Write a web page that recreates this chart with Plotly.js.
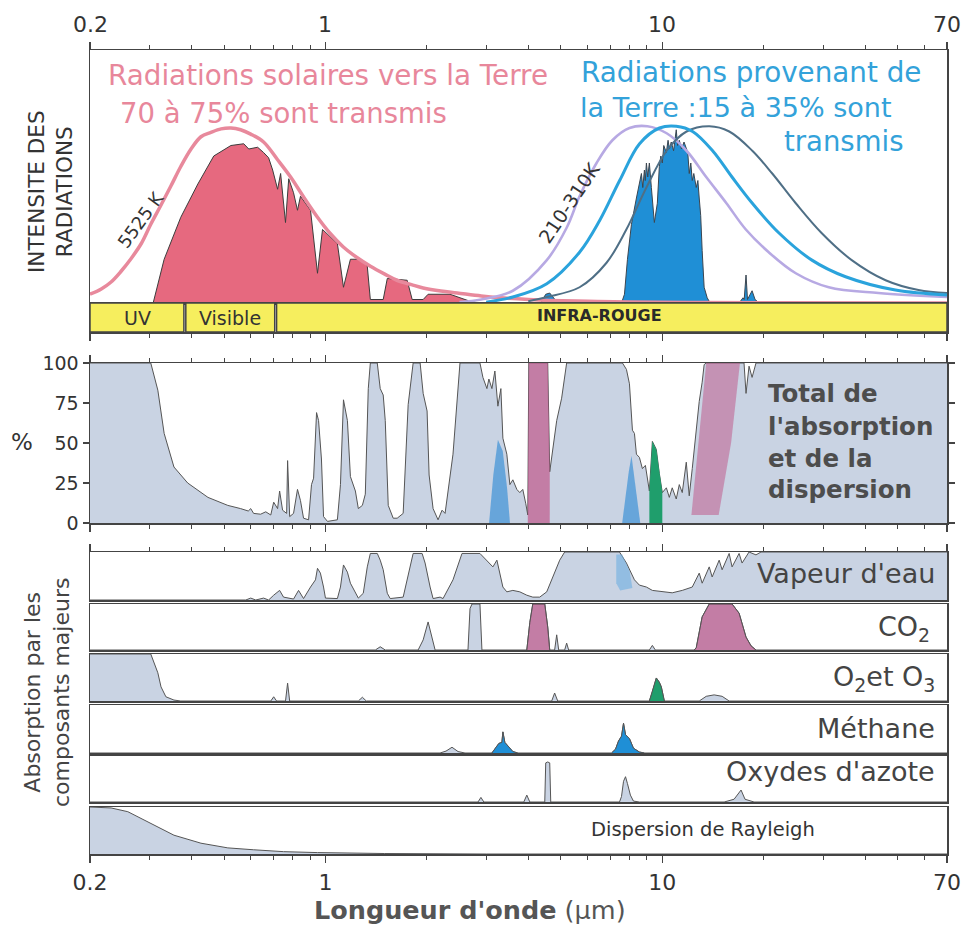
<!DOCTYPE html>
<html>
<head>
<meta charset="utf-8">
<script src="https://cdn.plot.ly/plotly-3.0.1.min.js"></script>
<style>
  html, body { margin: 0; padding: 0; background: #ffffff; }
  #chart { width: 965px; height: 927px; }
</style>
</head>
<body>
<div id="chart"></div>
<script>
// ---------- Wavelengths (µm) and values ----------

// Solar blackbody envelope (5525 K), relative intensity
const sunBbWl = [0.2, 0.216, 0.231, 0.247, 0.264, 0.284, 0.303, 0.325, 0.348, 0.372, 0.399, 0.427, 0.457, 0.49, 0.524, 0.56, 0.6, 0.655, 0.72, 0.788, 0.865, 0.947, 1.03, 1.13, 1.24, 1.36, 1.5, 1.63, 1.8, 1.95, 2.2, 2.46, 2.9, 3.3, 4.0, 4.6, 6.0, 8.0, 12.0, 20.0, 70.0];
const sunBbI  = [0.05, 0.08, 0.12, 0.18, 0.25, 0.34, 0.45, 0.56, 0.67, 0.78, 0.88, 0.95, 0.975, 0.995, 1.0, 0.99, 0.965, 0.92, 0.82, 0.72, 0.6, 0.49, 0.4, 0.32, 0.26, 0.21, 0.165, 0.13, 0.105, 0.086, 0.068, 0.057, 0.04, 0.03, 0.02, 0.015, 0.01, 0.006, 0.003, 0.001, 0];

// Solar radiation reaching the surface
const solarWl = [0.2, 0.308, 0.332, 0.372, 0.418, 0.466, 0.524, 0.572, 0.592, 0.629, 0.655, 0.678, 0.697, 0.721, 0.736, 0.761, 0.778, 0.804, 0.826, 0.843, 0.903, 0.947, 0.98, 1.085, 1.131, 1.186, 1.269, 1.331, 1.359, 1.484, 1.526, 1.748, 1.809, 1.95, 2.017, 2.343, 2.508, 2.686, 2.837, 4.0];
const solarI  = [0, 0, 0.25, 0.49, 0.68, 0.84, 0.9, 0.91, 0.88, 0.89, 0.86, 0.83, 0.76, 0.65, 0.74, 0.46, 0.71, 0.63, 0.53, 0.61, 0.53, 0.17, 0.42, 0.34, 0.09, 0.25, 0.25, 0.21, 0.02, 0.02, 0.14, 0.13, 0.02, 0.02, 0.05, 0.05, 0.03, 0.01, 0, 0];

// Terrestrial blackbody curves (210–310 K)
const lavWl = [2.5, 2.9, 3.6, 4.54, 5.2, 5.68, 6.38, 7.11, 7.99, 9.03, 10.3, 11.8, 13.5, 15.5, 17.7, 20.7, 24.9, 31.2, 43.8, 70];
const lavI  = [0.005, 0.02, 0.07, 0.245, 0.43, 0.61, 0.8, 0.93, 1.0, 1.01, 0.97, 0.87, 0.72, 0.57, 0.42, 0.29, 0.17, 0.09, 0.057, 0.034];
const blueWl = [3.0, 3.6, 4.54, 5.68, 6.51, 7.47, 8.56, 9.81, 11.0, 12.3, 14.1, 16.1, 18.5, 22.2, 27.8, 35.0, 49.2, 70];
const blueI  = [0.005, 0.034, 0.11, 0.29, 0.47, 0.7, 0.91, 1.0, 1.01, 0.98, 0.87, 0.72, 0.57, 0.4, 0.245, 0.15, 0.074, 0.046];
const slateWl = [4.0, 4.54, 5.68, 6.83, 7.82, 8.97, 10.3, 11.8, 13.8, 15.8, 18.5, 21.2, 24.9, 29.7, 36.5, 46.0, 57.6, 70];
const slateI  = [0.01, 0.034, 0.09, 0.23, 0.42, 0.66, 0.87, 0.98, 1.01, 0.98, 0.87, 0.74, 0.57, 0.4, 0.245, 0.13, 0.074, 0.057];

// Radiation leaving the Earth to space
const earthWl = [4.355, 4.507, 4.632, 4.76, 4.892, 7.566, 7.72, 7.88, 8.097, 8.378, 8.669, 8.75, 8.848, 8.9, 8.97, 9.05, 9.153, 9.279, 9.47, 9.665, 9.797, 9.9, 10.0, 10.1, 10.28, 10.4, 10.5, 10.63, 10.8, 11.0, 11.1, 11.23, 11.4, 11.6, 11.78, 11.9, 12.02, 12.15, 12.27, 12.4, 12.61, 12.75, 12.87, 13.0, 13.13, 13.31, 13.59, 13.87, 16.9, 17.36, 17.5, 17.72, 17.9, 18.09, 18.47, 18.85, 19.39];
const earthI  = [0, 0.05, 0.057, 0.03, 0, 0, 0.05, 0.25, 0.45, 0.6, 0.74, 0.66, 0.76, 0.7, 0.8, 0.72, 0.8, 0.66, 0.46, 0.57, 0.78, 0.84, 0.8, 0.9, 0.86, 0.93, 0.88, 0.92, 0.87, 0.99, 0.9, 0.93, 0.88, 0.92, 0.88, 0.86, 0.74, 0.8, 0.7, 0.74, 0.66, 0.7, 0.6, 0.5, 0.3, 0.09, 0.03, 0, 0, 0.03, 0.02, 0.16, 0.02, 0.04, 0.07, 0.02, 0];

// Spectral bands of the colour bar
const bandNames = ['UV', 'Visible', 'INFRA-ROUGE'];
const bandFrom  = [0.2, 0.385, 0.716];
const bandTo    = [0.38, 0.707, 70];

// Total absorption and scattering (%)
const totalWl = [0.2, 0.303, 0.318, 0.332, 0.355, 0.39, 0.448, 0.513, 0.56, 0.59, 0.6, 0.612, 0.642, 0.665, 0.688, 0.702, 0.721, 0.731, 0.746, 0.767, 0.772, 0.783, 0.804, 0.826, 0.843, 0.861, 0.891, 0.909, 0.922, 0.941, 0.954, 0.973, 0.987, 1.014, 1.085, 1.108, 1.131, 1.162, 1.186, 1.227, 1.252, 1.287, 1.313, 1.34, 1.359, 1.425, 1.454, 1.484, 1.505, 1.536, 1.589, 1.633, 1.701, 1.76, 1.821, 1.91, 1.95, 2.003, 2.031, 2.087, 2.159, 2.219, 2.265, 2.391, 2.508, 2.875, 2.934, 3.015, 3.056, 3.12, 3.184, 3.25, 3.317, 3.363, 3.455, 3.527, 3.6, 3.699, 3.775, 3.853, 3.933, 3.987, 4.014, 4.569, 4.632, 4.858, 5.025, 5.2, 7.615, 7.825, 7.987, 8.152, 8.265, 8.378, 8.551, 8.727, 8.908, 9.03, 9.153, 9.342, 9.598, 9.797, 10.0, 10.28, 10.49, 10.7, 11.0, 11.23, 11.46, 11.78, 12.02, 12.27, 12.61, 12.87, 13.13, 13.31, 13.5, 17.48, 17.72, 18.09, 18.47, 18.97, 70];
const totalPct = [100, 100, 83, 56, 35, 25, 16, 11, 9, 7.5, 9, 6, 5.5, 7, 5, 13, 9, 20, 8, 6, 39, 4, 6, 21, 14, 3, 2, 24, 28, 69, 64, 40, 4, 1, 2, 24, 77, 64, 29, 20, 9, 11, 18, 84, 100, 100, 84, 80, 64, 11, 3, 3, 6, 74, 100, 100, 81, 70, 30, 9, 2, 8, 6, 43, 100, 100, 91, 84, 90, 84, 95, 73, 84, 53, 43, 24, 27, 21, 19, 21, 12, 5, 100, 100, 32, 64, 78, 100, 100, 96, 87, 58, 56, 43, 41, 34, 36, 27, 20, 51, 46, 31, 19, 22, 16, 22, 15, 24, 19, 38, 17, 34, 60, 76, 88, 99, 100, 100, 81, 98, 91, 100, 100];

// Coloured hatching inside the total panel (methane and CO2 shares)
const ch4HatchAWl = [3.06, 3.15, 3.25, 3.36, 3.46, 3.53];
const ch4HatchAPct = [0, 30, 52, 45, 22, 0];
const ch4HatchBWl = [7.6, 7.75, 7.95, 8.1, 8.25, 8.45, 8.6];
const ch4HatchBPct = [0, 15, 32, 42, 30, 12, 0];
const co2HatchWl = [12.2, 12.8, 13.5, 17.0, 16.0, 14.7, 12.2];
const co2HatchPct = [5, 50, 100, 100, 50, 5, 5];

// Individual absorbers (relative absorption 0–1)
const vapWl = [0.2, 0.58, 0.6, 0.621, 0.655, 0.678, 0.702, 0.731, 0.751, 0.804, 0.832, 0.861, 0.903, 0.934, 0.947, 0.966, 0.987, 1.0, 1.085, 1.108, 1.131, 1.162, 1.186, 1.227, 1.252, 1.295, 1.331, 1.359, 1.425, 1.454, 1.484, 1.526, 1.557, 1.701, 1.784, 1.821, 1.936, 1.976, 2.045, 2.087, 2.189, 2.234, 2.391, 2.543, 2.875, 3.015, 3.141, 3.228, 3.295, 3.363, 3.455, 3.6, 3.775, 3.96, 4.125, 4.326, 4.538, 4.727, 4.959, 5.13, 7.462, 7.825, 8.097, 8.265, 8.551, 8.97, 9.342, 10.0, 10.7, 11.46, 12.27, 12.87, 13.13, 13.78, 14.06, 14.75, 15.05, 15.79, 16.11, 16.9, 17.25, 18.09, 18.97, 19.63, 70];
const vapVal = [0, 0, 0.04, 0, 0.04, 0, 0.1, 0.2, 0.06, 0.02, 0.2, 0.03, 0.27, 0.42, 0.66, 0.56, 0.27, 0.04, 0.03, 0.27, 0.73, 0.58, 0.35, 0.17, 0.04, 0.14, 0.69, 0.97, 0.97, 0.83, 0.63, 0.14, 0.03, 0.06, 0.69, 0.97, 0.97, 0.77, 0.27, 0.03, 0.06, 0.03, 0.42, 0.97, 0.97, 0.83, 0.69, 0.83, 0.56, 0.27, 0.17, 0.2, 0.17, 0.1, 0.06, 0.06, 0.17, 0.48, 0.83, 1.0, 1.0, 0.77, 0.56, 0.42, 0.31, 0.27, 0.2, 0.17, 0.15, 0.2, 0.27, 0.56, 0.35, 0.69, 0.48, 0.83, 0.63, 0.97, 0.69, 0.97, 0.77, 1.0, 0.94, 1.0, 1.0];
const vapHatchWl = [7.3, 7.6, 8.0, 8.15, 7.5, 7.3];
const vapHatchVal = [0.95, 0.95, 0.6, 0.25, 0.2, 0.35];

const co2Wl = [0.2, 1.406, 1.454, 1.505, 1.884, 1.95, 2.017, 2.073, 2.116, 2.649, 2.686, 2.723, 2.875, 2.914, 3.96, 4.043, 4.125, 4.477, 4.569, 4.632, 4.79, 4.858, 4.925, 5.13, 5.2, 5.272, 9.153, 9.342, 9.535, 12.44, 12.61, 13.13, 13.78, 16.11, 16.9, 17.72, 18.34, 18.97, 70];
const co2Val = [0, 0, 0.07, 0, 0, 0.22, 0.61, 0.28, 0, 0, 0.9, 1.0, 1.0, 0, 0, 0.6, 1.0, 1.0, 0.5, 0, 0, 0.33, 0, 0, 0.15, 0, 0, 0.1, 0, 0, 0.05, 0.72, 1.0, 1.0, 0.8, 0.28, 0.09, 0, 0];

const o2Wl = [0.2, 0.303, 0.318, 0.325, 0.336, 0.355, 0.372, 0.688, 0.702, 0.716, 0.761, 0.772, 0.783, 1.252, 1.287, 1.322, 4.695, 4.79, 4.892, 9.153, 9.342, 9.598, 9.797, 9.932, 10.14, 12.87, 13.5, 14.25, 15.05, 15.79, 70];
const o2Val = [1, 1, 0.6, 0.3, 0.09, 0.02, 0, 0, 0.09, 0, 0, 0.38, 0, 0, 0.08, 0, 0, 0.17, 0, 0, 0.2, 0.49, 0.4, 0.3, 0, 0, 0.1, 0.13, 0.1, 0, 0];

const ch4Wl = [0.2, 2.189, 2.28, 2.375, 2.475, 2.596, 3.12, 3.184, 3.272, 3.34, 3.363, 3.409, 3.479, 3.6, 3.724, 7.067, 7.263, 7.413, 7.566, 7.671, 7.776, 7.987, 8.209, 8.551, 8.848, 70];
const ch4Val = [0, 0, 0.04, 0.12, 0.03, 0, 0, 0.08, 0.2, 0.22, 0.44, 0.22, 0.15, 0.03, 0, 0, 0.08, 0.25, 0.35, 0.62, 0.38, 0.3, 0.1, 0.02, 0, 0];

const noxWl = [0.2, 2.837, 2.894, 2.953, 3.879, 3.96, 4.043, 4.477, 4.507, 4.569, 4.632, 4.664, 7.462, 7.566, 7.671, 7.776, 7.88, 8.04, 8.209, 8.551, 15.26, 16.33, 17.13, 17.6, 18.72, 70];
const noxVal = [0, 0, 0.1, 0, 0, 0.15, 0, 0, 0.85, 0.87, 0.85, 0, 0, 0.12, 0.45, 0.55, 0.4, 0.15, 0.02, 0, 0, 0.06, 0.26, 0.06, 0, 0];

const rayWl = [0.2, 0.231, 0.259, 0.303, 0.355, 0.427, 0.513, 0.612, 0.751, 0.947, 1.5, 3.0, 70];
const rayVal = [1.0, 0.98, 0.9, 0.66, 0.4, 0.23, 0.13, 0.09, 0.05, 0.03, 0.01, 0, 0];

// Axis ticks
const majorTicks = [0.2, 1, 10, 70];
const majorText = ['0.2', '1', '10', '70'];
const minorTicks = [0.3, 0.4, 0.5, 0.6, 0.7, 0.8, 0.9, 2, 3, 4, 5, 6, 7, 8, 9, 20, 30, 40, 50, 60];
const pctTicks = [0, 25, 50, 75, 100];

// ---------- Styling ----------
const C = {
  frame: '#444444',
  ink: '#3a3a3a',
  grey: '#c9d3e3',
  solar: '#e6697f',
  sunCurve: '#e8899c',
  pinkText: '#e8879b',
  blueText: '#33a2da',
  earth: '#1f8fd6',
  lav: '#b7a9e3',
  blue: '#2aa3dc',
  slate: '#4f6f86',
  yellow: '#f6ee5e',
  co2: 'rgba(192, 92, 142, 0.72)',
  ch4: 'rgba(70, 150, 215, 0.75)',
  o3: '#1f9e6c'
};

// plot box: 90..947 px horizontally, 50..854 px vertically
const L = 90, R = 947, T = 50, B = 854;
const dom = (top, bottom) => [(B - bottom) / (B - T), (B - top) / (B - T)];
const px = v => (v - L) / (R - L);
const py = v => (B - v) / (B - T);

function slice(wl, vals, lo, hi) {
  const x = [], y = [];
  wl.forEach((w, i) => { if (w >= lo && w <= hi) { x.push(w); y.push(vals[i]); } });
  return { x, y };
}

const traces = [];
function area(x, y, xa, ya, fill, line, extra) {
  traces.push(Object.assign({
    type: 'scatter', mode: 'lines', x, y, xaxis: xa, yaxis: ya,
    fill: 'tozeroy', fillcolor: fill,
    line: { color: line || C.ink, width: 1 },
    hoverinfo: 'skip'
  }, extra || {}));
}
function curve(x, y, color, width) {
  traces.push({
    type: 'scatter', mode: 'lines', x, y, xaxis: 'x', yaxis: 'y',
    line: { color, width, shape: 'spline', smoothing: 1 }, hoverinfo: 'skip'
  });
}

// --- top panel: radiation spectra ---
area(solarWl, solarI, 'x', 'y', C.solar, '#3c3c3c');
area(earthWl, earthI, 'x', 'y', C.earth, '#3c4650');
curve(sunBbWl, sunBbI, C.sunCurve, 3.5);
curve(lavWl, lavI, C.lav, 2.6);
curve(slateWl, slateI, C.slate, 2);
curve(blueWl, blueI, C.blue, 3);

// --- colour bar of spectral bands ---
bandNames.forEach((n, i) => {
  traces.push({
    type: 'scatter', mode: 'lines', xaxis: 'x2', yaxis: 'y2',
    x: [bandFrom[i], bandTo[i], bandTo[i], bandFrom[i], bandFrom[i]],
    y: [0, 0, 1, 1, 0], fill: 'toself', fillcolor: C.yellow,
    line: { color: C.frame, width: 1.5 }, hoverinfo: 'skip'
  });
});

// --- total absorption panel ---
area(totalWl, totalPct, 'x3', 'y3', C.grey, '#555555');
let s = slice(totalWl, totalPct, 3.98, 4.64);
area(s.x, s.y, 'x3', 'y3', C.co2, 'rgba(0,0,0,0)');
s = slice(totalWl, totalPct, 9.1, 10.05);
area(s.x, s.y, 'x3', 'y3', C.o3, 'rgba(0,0,0,0)');
area(ch4HatchAWl, ch4HatchAPct, 'x3', 'y3', C.ch4, 'rgba(0,0,0,0)');
area(ch4HatchBWl, ch4HatchBPct, 'x3', 'y3', C.ch4, 'rgba(0,0,0,0)');
area(co2HatchWl, co2HatchPct, 'x3', 'y3', 'rgba(192, 92, 142, 0.55)', 'rgba(0,0,0,0)', { fill: 'toself' });

// --- individual absorbers ---
area(vapWl, vapVal, 'x4', 'y4', C.grey, '#555555');
area(vapHatchWl, vapHatchVal, 'x4', 'y4', 'rgba(110, 175, 225, 0.6)', 'rgba(0,0,0,0)', { fill: 'toself' });

area(co2Wl, co2Val, 'x5', 'y5', C.grey, '#555555');
s = slice(co2Wl, co2Val, 3.9, 4.7);
area(s.x, s.y, 'x5', 'y5', C.co2, '#555555');
s = slice(co2Wl, co2Val, 12.4, 19.0);
area(s.x, s.y, 'x5', 'y5', C.co2, '#555555');

area(o2Wl, o2Val, 'x6', 'y6', C.grey, '#555555');
s = slice(o2Wl, o2Val, 9.1, 10.2);
area(s.x, s.y, 'x6', 'y6', C.o3, '#555555');

area(ch4Wl, ch4Val, 'x7', 'y7', C.grey, '#555555');
s = slice(ch4Wl, ch4Val, 3.1, 3.75);
area(s.x, s.y, 'x7', 'y7', C.earth, '#555555');
s = slice(ch4Wl, ch4Val, 7.0, 8.9);
area(s.x, s.y, 'x7', 'y7', C.earth, '#555555');

area(noxWl, noxVal, 'x8', 'y8', C.grey, '#555555');
area(rayWl, rayVal, 'x9', 'y9', C.grey, '#555555');

// ---------- Axes ----------
const xRange = [Math.log10(0.2), Math.log10(70)];
const tickFont = { family: 'DejaVu Sans', size: 22, color: '#333333' };
function xAx(anchor, opts) {
  return Object.assign({
    type: 'log', range: xRange, domain: [0, 1], anchor,
    showline: true, linecolor: C.frame, linewidth: 1.5, mirror: true,
    showgrid: false, zeroline: false, ticks: '', showticklabels: false, fixedrange: true
  }, opts || {});
}
const tickSet = (extra) => Object.assign({
  ticks: 'outside', ticklen: 7, tickwidth: 1.2, tickcolor: C.frame,
  tickmode: 'array', tickvals: majorTicks, ticktext: majorText,
  minor: { tickmode: 'array', tickvals: minorTicks, ticks: 'outside', ticklen: 4, tickwidth: 1, tickcolor: C.frame }
}, extra || {});
function yAx(anchor, domain, range, opts) {
  return Object.assign({
    domain, range, anchor,
    showline: true, linecolor: C.frame, linewidth: 1.5, mirror: true,
    showgrid: false, zeroline: false, ticks: '', showticklabels: false, fixedrange: true
  }, opts || {});
}

const topTop = 50, topBase = 303;
const layout = {
  width: 965, height: 927,
  margin: { l: L, r: 965 - R, t: T, b: 927 - B },
  paper_bgcolor: '#ffffff', plot_bgcolor: '#ffffff',
  showlegend: false,
  font: { family: 'DejaVu Sans', color: '#333333' },

  // top scale: ticks from the axis, labels set a little closer as annotations below
  xaxis: xAx('y', tickSet({ side: 'top', showticklabels: false })),
  yaxis: yAx('x', dom(topTop, topBase), [0, (topBase - topTop) / 175]),

  xaxis2: xAx('y2', tickSet({ showticklabels: false })),
  yaxis2: yAx('x2', dom(303, 332), [0, 1]),

  xaxis3: xAx('y3', tickSet({ mirror: 'allticks', showticklabels: false })),
  yaxis3: yAx('x3', dom(363, 523), [0, 100], {
    ticks: 'outside', ticklen: 6, tickwidth: 1.2, tickcolor: C.frame, mirror: 'allticks',
    tickmode: 'array', tickvals: pctTicks, showticklabels: true,
    tickfont: { family: 'DejaVu Sans', size: 19, color: '#333333' }
  }),

  xaxis4: xAx('y4', tickSet({ side: 'top', showticklabels: false })),
  yaxis4: yAx('x4', dom(552, 600), [0, 1]),
  xaxis5: xAx('y5'), yaxis5: yAx('x5', dom(604, 650), [0, 1]),
  xaxis6: xAx('y6'), yaxis6: yAx('x6', dom(654, 701), [0, 1]),
  xaxis7: xAx('y7'), yaxis7: yAx('x7', dom(705, 753), [0, 1]),
  xaxis8: xAx('y8'), yaxis8: yAx('x8', dom(756, 802), [0, 1]),
  xaxis9: xAx('y9', tickSet({ showticklabels: true, tickfont: tickFont, ticklabelstandoff: 1 })),
  yaxis9: yAx('x9', dom(807, 854), [0, 1]),

  annotations: []
};

function note(text, x, y, opts) {
  layout.annotations.push(Object.assign({
    text, xref: 'paper', yref: 'paper', x: px(x), y: py(y),
    showarrow: false, xanchor: 'center', yanchor: 'middle'
  }, opts || {}));
}
const f = (size, color, family) => ({ family: family || 'DejaVu Sans', size, color });

// top wavelength labels (annotation x on a log axis is given as log10)
majorTicks.forEach((v, i) => {
  layout.annotations.push({
    text: majorText[i], xref: 'x', yref: 'paper', x: Math.log10(v), y: py(25),
    showarrow: false, xanchor: 'center', yanchor: 'middle', font: tickFont
  });
});

note('Radiations solaires vers la Terre', 328, 75, { font: f(27.8, C.pinkText) });
note('70 à 75% sont transmis', 283, 113, { font: f(27.5, C.pinkText) });
note('Radiations provenant de', 579, 73, { xanchor: 'left', font: f(27.8, C.blueText) });
note('la Terre :15 à 35% sont', 578, 107, { xanchor: 'left', font: f(27, C.blueText) });
note('transmis', 905, 141, { xanchor: 'right', font: f(27.5, C.blueText) });
note('5525 K', 141, 220, { textangle: -54, font: f(18, '#333333') });
note('210-310K', 569, 203, { textangle: -56, font: f(19, '#333333') });

note(bandNames[0], 137, 318, { font: f(19, '#333333') });
note(bandNames[1], 230, 318, { font: f(19, '#333333') });
note('<b>' + bandNames[2] + '</b>', 599, 315, { font: f(16, '#2a2a2a') });

note('INTENSITE DES<br>RADIATIONS', 50, 192, { textangle: -90, font: f(21.5, '#333333') });
note('%', 22, 442, { font: f(23, '#333333') });

note('<b>Total de</b>', 766, 393, { xanchor: 'left', font: f(24.5, '#4d4d4d') });
note('<b>l\'absorption</b>', 766, 426, { xanchor: 'left', font: f(24.5, '#4d4d4d') });
note('<b>et de la</b>', 766, 459, { xanchor: 'left', font: f(24.5, '#4d4d4d') });
note('<b>dispersion</b>', 766, 490, { xanchor: 'left', font: f(24.5, '#4d4d4d') });

note('Vapeur d\'eau', 937, 573, { xanchor: 'right', font: f(27, '#444444') });
note('CO<sub>2</sub>', 932, 628, { xanchor: 'right', font: f(27, '#444444') });
note('O<sub>2</sub>et O<sub>3</sub>', 937, 678, { xanchor: 'right', font: f(27, '#444444') });
note('Méthane', 937, 728, { xanchor: 'right', font: f(27, '#444444') });
note('Oxydes d\'azote', 937, 771, { xanchor: 'right', font: f(27, '#444444') });
note('Dispersion de Rayleigh', 703, 829, { font: f(19.5, '#333333') });

note('Absorption par les<br>composants majeurs', 47, 693, { textangle: -90, font: f(22, '#444444') });
note('<b>Longueur d\'onde</b> (µm)', 470, 910, { font: f(25.5, '#555555') });

Plotly.newPlot('chart', traces, layout, { staticPlot: true, displayModeBar: false });
</script>
</body>
</html>
